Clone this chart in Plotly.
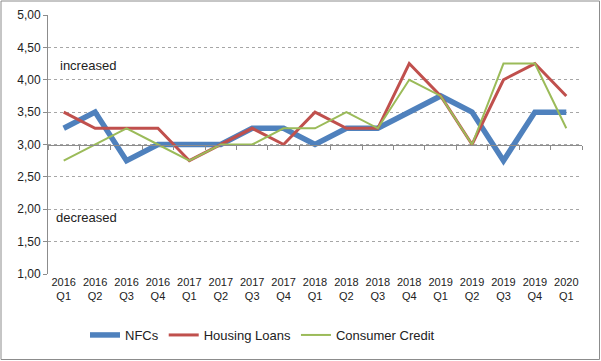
import plotly.graph_objects as go

categories = ["2016<br>Q1", "2016<br>Q2", "2016<br>Q3", "2016<br>Q4",
              "2017<br>Q1", "2017<br>Q2", "2017<br>Q3", "2017<br>Q4",
              "2018<br>Q1", "2018<br>Q2", "2018<br>Q3", "2018<br>Q4",
              "2019<br>Q1", "2019<br>Q2", "2019<br>Q3", "2019<br>Q4",
              "2020<br>Q1"]
nfcs = [3.25, 3.5, 2.75, 3.0, 3.0, 3.0, 3.25, 3.25, 3.0, 3.25, 3.25, 3.5, 3.75, 3.5, 2.75, 3.5, 3.5]
housing = [3.5, 3.25, 3.25, 3.25, 2.75, 3.0, 3.25, 3.0, 3.5, 3.25, 3.25, 4.25, 3.75, 3.0, 4.0, 4.25, 3.75]
consumer = [2.75, 3.0, 3.25, 3.0, 2.75, 3.0, 3.0, 3.25, 3.25, 3.5, 3.25, 4.0, 3.75, 3.0, 4.25, 4.25, 3.25]
y_ticks = [1.0, 1.5, 2.0, 2.5, 3.0, 3.5, 4.0, 4.5, 5.0]

W, H = 601, 361
ML, MR, MT, MB = 48, 19, 15, 87
FONT = "Liberation Sans"

fig = go.Figure()
fig.add_trace(go.Scatter(x=categories, y=nfcs, name="NFCs", mode="lines",
                         line=dict(color="#4F81BD", width=5.5)))
fig.add_trace(go.Scatter(x=categories, y=housing, name="Housing Loans", mode="lines",
                         line=dict(color="#C0504D", width=3)))
fig.add_trace(go.Scatter(x=categories, y=consumer, name="Consumer Credit", mode="lines",
                         line=dict(color="#9BBB59", width=2)))
# invisible trace to carry the category axis crossing at 3,00
fig.add_trace(go.Scatter(x=categories, y=[None] * len(categories), xaxis="x2",
                         showlegend=False, hoverinfo="skip", mode="lines"))

pw = W - ML - MR
ph = H - MT - MB

fig.update_layout(
    width=W, height=H,
    margin=dict(l=ML, r=MR, t=MT, b=MB, autoexpand=False),
    paper_bgcolor="white", plot_bgcolor="white",
    font=dict(family=FONT, size=11, color="#222"),
    separators=",.",
    xaxis=dict(type="category", range=[-0.5, len(categories) - 0.5],
               showgrid=False, showline=False, ticks="", zeroline=False,
               tickfont=dict(size=11, family=FONT), tickangle=0),
    xaxis2=dict(type="category", overlaying="x", matches="x", anchor="free",
                position=(3.0 - 1.0) / (5.0 - 1.0),
                range=[-0.5, len(categories) - 0.5],
                showline=True, linecolor="#8c8c8c", linewidth=1,
                ticks="outside", ticklen=4, tickcolor="#8c8c8c",
                tickson="boundaries", showticklabels=False, showgrid=False),
    yaxis=dict(range=[1.0, 5.0], tickvals=y_ticks, tickformat=".2f",
               showgrid=True, gridcolor="#a6a6a6", griddash="dot", gridwidth=1,
               showline=True, linecolor="#8c8c8c", linewidth=1,
               ticks="outside", ticklen=4, tickcolor="#8c8c8c",
               zeroline=False, tickfont=dict(size=12, family=FONT)),
    legend=dict(orientation="h", x=(85 - ML) / pw, xanchor="left",
                y=-(335 - (MT + ph)) / ph, yanchor="middle",
                font=dict(size=13, family=FONT), bgcolor="rgba(0,0,0,0)",
                itemwidth=30),
    showlegend=True,
)

fig.add_annotation(text="increased", xref="paper", yref="y", x=(58 - ML) / pw, y=4.22,
                   xanchor="left", yanchor="middle", showarrow=False,
                   font=dict(size=13, family=FONT, color="#222"))
fig.add_annotation(text="decreased", xref="paper", yref="y", x=(54 - ML) / pw, y=1.88,
                   xanchor="left", yanchor="middle", showarrow=False,
                   font=dict(size=13, family=FONT, color="#222"))

# outer chart border
fig.add_shape(type="rect", xref="paper", yref="paper",
              x0=-(ML - 1) / pw, x1=1 + (MR - 1.5) / pw,
              y0=-(MB - 1.5) / ph, y1=1 + (MT - 1) / ph,
              line=dict(color="#8c8c8c", width=1), fillcolor="rgba(0,0,0,0)", layer="below")

fig.write_html("out.html", config={"displayModeBar": False},
               post_script="document.body.style.margin='0';document.body.style.overflow='hidden';")
